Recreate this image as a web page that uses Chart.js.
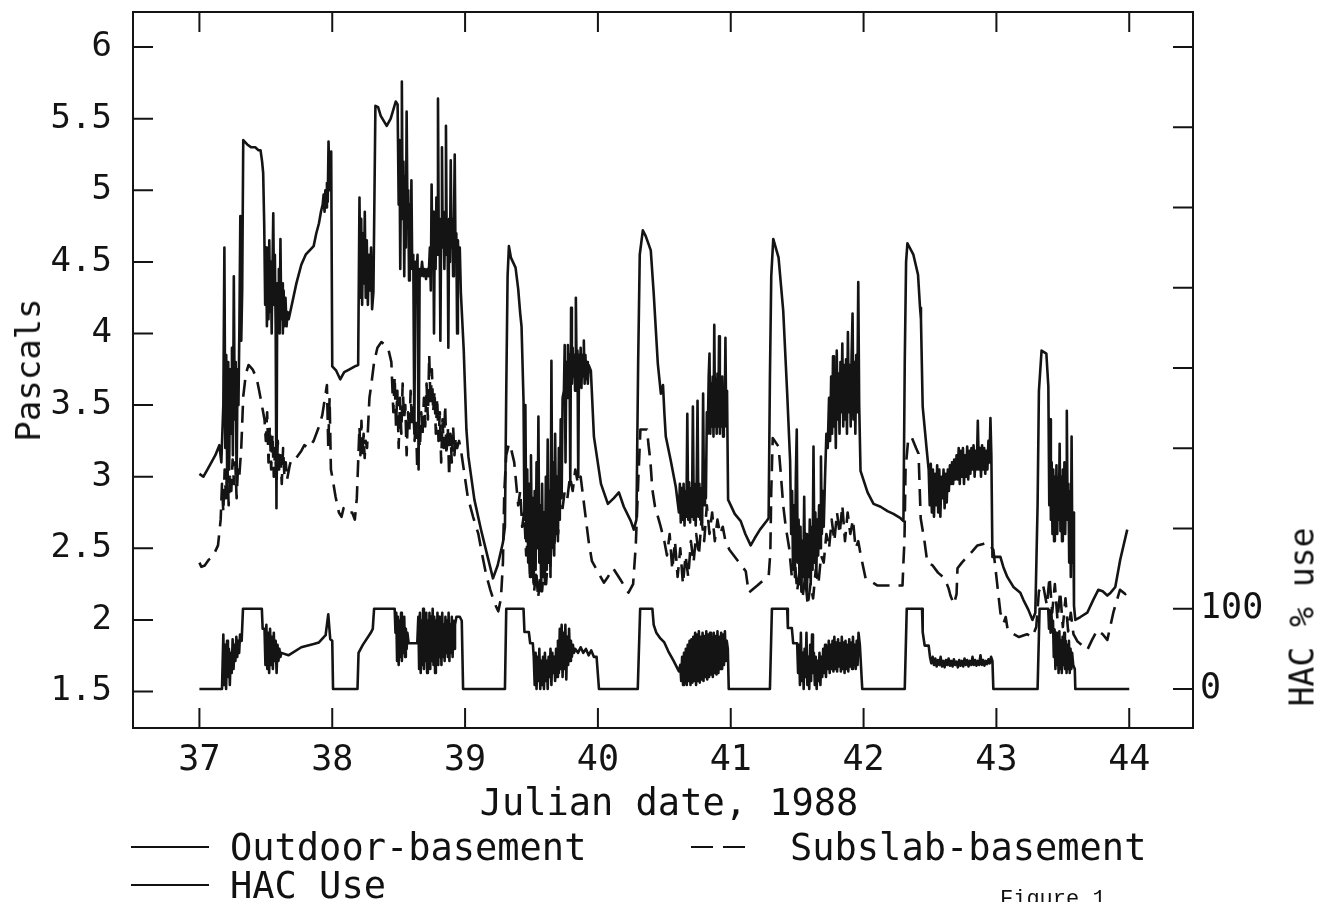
<!DOCTYPE html>
<html>
<head>
<meta charset="utf-8">
<title>Julian date, 1988</title>
<script src="https://cdn.jsdelivr.net/npm/chart.js@4.4.1/dist/chart.umd.min.js"></script>
<style>
  html, body { margin: 0; padding: 0; background: #fff; }
  #page { position: relative; width: 1336px; height: 902px; overflow: hidden; background: #fff; }
  #pressure-chart { position: absolute; left: 0; top: 0; }
  .label { position: absolute; font-family: "DejaVu Sans Mono", monospace; color: #111; white-space: nowrap; line-height: 1; }
  .rotated { transform: translate(-50%, -50%) rotate(-90deg); }
  .centered { transform: translate(-50%, -50%); }
  .row { transform: translate(0, -50%); }
  .key-line { position: absolute; height: 0; border-top: 2px solid #111; }
</style>
</head>
<body>
<div id="page">
  <canvas id="pressure-chart" width="1336" height="902"></canvas>
  <div class="label rotated" style="left:28px; top:370px; font-size:34px;">Pascals</div>
  <div class="label rotated" style="left:1302px; top:617px; font-size:33px;">HAC % use</div>
  <div class="label centered" style="left:669px; top:802px; font-size:37px;">Julian date, 1988</div>

  <div class="key-line" style="left:131px; top:846px; width:78px;"></div>
  <div class="label row" style="left:230px; top:847px; font-size:37px;">Outdoor-basement</div>
  <div class="key-line" style="left:691px; top:846px; width:22px;"></div>
  <div class="key-line" style="left:723px; top:846px; width:22px;"></div>
  <div class="label row" style="left:790px; top:847px; font-size:37px;">Subslab-basement</div>
  <div class="key-line" style="left:131px; top:884px; width:78px;"></div>
  <div class="label row" style="left:230px; top:885px; font-size:37px;">HAC Use</div>
  <div class="label" style="left:1000px; top:889px; font-size:22px; font-family:'Liberation Mono', monospace;">Figure 1</div>
</div>
<script>
"use strict";

// tick values for the three axes
const dayTicks = [37, 38, 39, 40, 41, 42, 43, 44];
const pascalTicks = [1.5, 2, 2.5, 3, 3.5, 4, 4.5, 5, 5.5, 6];
const hacTicks = [0, 100, 200, 300, 400, 500, 600, 700, 800];
const hacTickLabels = { 0: "0", 100: "100" };

// [julian day, pascals]
const outdoorBasement = [
  [37.000, 3.02], [37.030, 3.00], [37.060, 3.05], [37.090, 3.10], [37.120, 3.15], [37.150, 3.22],
  [37.165, 3.10], [37.180, 3.50], [37.188, 4.60], [37.195, 3.20], [37.202, 3.85], [37.210, 2.88],
  [37.217, 3.80], [37.224, 3.05], [37.231, 3.75], [37.238, 3.30], [37.245, 3.90], [37.252, 3.15],
  [37.259, 4.40], [37.266, 3.40], [37.273, 3.80], [37.280, 2.95], [37.287, 3.75], [37.294, 3.50],
  [37.301, 4.05], [37.308, 4.82], [37.315, 3.95], [37.322, 4.30], [37.330, 5.35], [37.360, 5.32],
  [37.390, 5.30], [37.420, 5.30], [37.445, 5.28], [37.460, 5.28], [37.472, 5.20], [37.480, 5.12],
  [37.488, 4.75], [37.495, 4.20], [37.502, 4.60], [37.508, 4.05], [37.514, 4.55], [37.520, 4.10],
  [37.526, 4.65], [37.532, 4.15], [37.538, 4.50], [37.544, 4.00], [37.550, 4.45], [37.556, 4.84],
  [37.562, 4.20], [37.568, 4.55], [37.574, 4.05], [37.580, 2.78], [37.586, 4.35], [37.592, 4.10],
  [37.598, 4.45], [37.604, 4.00], [37.610, 4.66], [37.616, 4.10], [37.622, 4.35], [37.628, 4.00],
  [37.634, 4.30], [37.640, 4.05], [37.648, 4.25], [37.656, 4.05], [37.664, 4.15], [37.672, 4.10],
  [37.700, 4.22], [37.730, 4.35], [37.767, 4.48], [37.800, 4.55], [37.830, 4.58], [37.860, 4.61],
  [37.880, 4.70], [37.900, 4.77], [37.915, 4.85], [37.928, 4.90], [37.935, 4.97], [37.942, 4.85],
  [37.948, 5.00], [37.954, 4.88], [37.960, 5.05], [37.966, 4.92], [37.972, 5.34], [37.980, 5.00],
  [37.992, 5.27], [38.000, 3.77],
  [38.030, 3.74], [38.060, 3.68], [38.090, 3.73], [38.130, 3.75], [38.170, 3.77], [38.195, 3.78],
  [38.205, 4.95], [38.212, 4.25], [38.218, 4.80], [38.225, 4.20], [38.232, 4.70], [38.238, 4.35],
  [38.245, 4.85], [38.252, 4.25], [38.260, 4.65], [38.268, 4.20], [38.276, 4.55], [38.284, 4.30],
  [38.292, 4.60], [38.300, 4.17], [38.310, 4.29], [38.325, 5.59], [38.345, 5.58], [38.365, 5.52],
  [38.410, 5.45], [38.440, 5.50], [38.478, 5.62], [38.492, 5.60], [38.500, 4.90], [38.506, 5.35],
  [38.512, 4.45], [38.518, 5.25], [38.524, 5.76], [38.530, 4.80], [38.536, 5.20], [38.542, 4.40],
  [38.548, 5.10], [38.554, 4.60], [38.560, 5.55], [38.566, 4.85], [38.572, 5.00], [38.578, 4.37],
  [38.584, 4.90], [38.590, 4.50], [38.596, 5.07], [38.602, 4.45], [38.610, 4.55], [38.618, 3.30],
  [38.626, 4.50], [38.634, 4.40], [38.642, 4.55], [38.650, 3.05], [38.658, 4.45], [38.666, 4.40],
  [38.676, 4.50], [38.686, 4.40], [38.696, 4.45], [38.706, 4.38], [38.716, 4.45], [38.726, 4.40],
  [38.735, 4.60], [38.742, 4.30], [38.748, 5.04], [38.754, 4.50], [38.760, 4.85], [38.766, 4.00],
  [38.772, 4.75], [38.778, 4.45], [38.784, 4.95], [38.790, 4.55], [38.796, 5.64], [38.802, 4.60],
  [38.808, 4.80], [38.814, 3.95], [38.820, 4.75], [38.826, 5.30], [38.832, 4.60], [38.838, 4.85],
  [38.844, 4.45], [38.850, 4.80], [38.856, 5.45], [38.862, 4.55], [38.868, 4.75], [38.874, 3.90],
  [38.880, 4.80], [38.886, 4.50], [38.892, 5.21], [38.898, 4.60], [38.904, 4.80], [38.910, 4.40],
  [38.916, 4.75], [38.922, 5.25], [38.928, 4.55], [38.934, 4.70], [38.940, 4.00], [38.946, 4.65],
  [38.952, 4.46], [38.960, 4.60], [38.968, 4.29], [38.990, 3.88],
  [39.010, 3.33], [39.025, 3.14], [39.070, 2.84], [39.120, 2.63], [39.170, 2.44], [39.210, 2.29],
  [39.245, 2.38], [39.285, 2.54], [39.300, 2.65], [39.310, 3.60], [39.320, 4.40], [39.330, 4.61],
  [39.345, 4.53], [39.380, 4.46], [39.400, 4.31], [39.415, 4.14], [39.425, 4.05], [39.440, 3.53],
  [39.447, 2.70], [39.454, 3.50], [39.461, 2.55], [39.468, 3.05], [39.475, 2.40], [39.482, 2.95],
  [39.489, 2.30], [39.496, 3.15], [39.503, 2.45], [39.510, 2.85], [39.517, 2.25], [39.524, 2.90],
  [39.531, 2.35], [39.538, 3.10], [39.545, 2.50], [39.552, 3.42], [39.559, 2.40], [39.566, 2.80],
  [39.573, 2.20], [39.580, 2.95], [39.587, 2.30], [39.594, 2.75], [39.601, 2.25], [39.608, 3.00],
  [39.615, 2.35], [39.622, 3.26], [39.629, 2.40], [39.636, 2.90], [39.643, 2.30], [39.650, 3.81],
  [39.657, 2.50], [39.664, 3.10], [39.671, 2.45], [39.678, 3.30], [39.685, 2.60], [39.692, 3.00],
  [39.699, 2.55], [39.706, 3.20], [39.713, 2.70], [39.720, 3.40], [39.727, 2.85], [39.734, 3.55],
  [39.744, 3.60], [39.750, 3.92], [39.756, 3.10], [39.762, 3.80], [39.768, 3.55], [39.774, 3.92],
  [39.780, 3.65], [39.786, 3.85], [39.792, 2.95], [39.798, 4.18], [39.804, 3.65], [39.810, 3.90],
  [39.816, 3.70], [39.822, 3.85], [39.828, 3.60], [39.834, 4.25], [39.840, 3.70], [39.846, 3.88],
  [39.852, 3.00], [39.858, 3.85], [39.864, 3.65], [39.870, 3.90], [39.876, 3.62], [39.882, 3.85],
  [39.888, 3.70], [39.894, 3.95], [39.900, 3.65], [39.906, 3.85], [39.912, 3.68], [39.918, 3.80],
  [39.924, 3.65], [39.930, 3.78], [39.947, 3.74], [39.970, 3.28], [40.023, 2.95], [40.075, 2.81],
  [40.120, 2.85], [40.158, 2.89], [40.195, 2.79], [40.248, 2.69], [40.270, 2.63], [40.290, 2.70],
  [40.303, 3.80], [40.315, 4.55], [40.338, 4.72], [40.360, 4.68], [40.398, 4.58], [40.420, 4.28],
  [40.451, 3.79], [40.474, 3.58], [40.490, 3.64], [40.500, 3.45], [40.511, 3.28], [40.549, 3.11],
  [40.586, 2.93], [40.610, 2.75], [40.617, 2.95], [40.624, 2.68], [40.631, 2.92], [40.638, 2.70],
  [40.645, 2.95], [40.652, 2.66], [40.659, 2.90], [40.666, 2.72], [40.673, 3.44], [40.680, 2.70],
  [40.687, 2.96], [40.694, 2.68], [40.701, 2.92], [40.708, 2.72], [40.715, 3.49], [40.722, 2.70],
  [40.729, 2.95], [40.736, 2.66], [40.743, 2.90], [40.750, 3.53], [40.757, 2.72], [40.764, 2.95],
  [40.771, 2.70], [40.778, 2.92], [40.785, 2.68], [40.792, 3.58], [40.799, 2.80], [40.806, 3.10],
  [40.813, 2.85], [40.820, 3.45], [40.827, 3.30], [40.834, 3.70], [40.840, 3.86], [40.846, 3.30],
  [40.852, 3.65], [40.858, 3.35], [40.864, 3.70], [40.870, 3.28], [40.876, 4.06], [40.882, 3.35],
  [40.888, 3.68], [40.894, 3.30], [40.900, 3.72], [40.906, 3.35], [40.912, 3.98], [40.918, 3.30],
  [40.924, 3.65], [40.930, 3.35], [40.936, 3.70], [40.942, 3.28], [40.948, 3.62], [40.954, 3.40],
  [40.960, 3.97], [40.966, 3.35], [40.972, 3.60], [40.980, 2.84],
  [41.030, 2.74], [41.075, 2.69], [41.110, 2.60], [41.150, 2.52], [41.180, 2.57], [41.220, 2.63],
  [41.270, 2.69], [41.285, 2.71], [41.295, 3.70], [41.305, 4.40], [41.320, 4.66], [41.360, 4.53],
  [41.395, 4.16], [41.425, 3.58], [41.447, 3.11], [41.455, 2.60], [41.462, 2.90], [41.469, 2.35],
  [41.476, 2.80], [41.483, 2.30], [41.490, 3.00], [41.497, 3.33], [41.504, 2.40], [41.511, 2.70],
  [41.518, 2.25], [41.525, 2.65], [41.532, 2.20], [41.539, 2.55], [41.546, 2.30], [41.553, 2.86],
  [41.560, 2.25], [41.567, 2.60], [41.574, 2.20], [41.581, 2.55], [41.588, 2.30], [41.595, 2.70],
  [41.602, 2.25], [41.609, 2.65], [41.616, 2.35], [41.623, 3.21], [41.630, 2.40], [41.637, 2.75],
  [41.644, 2.30], [41.651, 2.70], [41.658, 2.45], [41.665, 2.80], [41.672, 2.50], [41.679, 3.14],
  [41.686, 2.60], [41.693, 2.90], [41.700, 2.65], [41.710, 3.00], [41.720, 3.30], [41.730, 3.20],
  [41.740, 3.55], [41.748, 3.25], [41.756, 3.70], [41.763, 3.30], [41.770, 3.84], [41.777, 3.35],
  [41.784, 3.75], [41.791, 3.20], [41.798, 3.88], [41.805, 3.40], [41.812, 3.72], [41.819, 3.30],
  [41.826, 3.80], [41.833, 3.45], [41.840, 3.93], [41.847, 3.35], [41.854, 3.78], [41.861, 3.40],
  [41.868, 3.82], [41.875, 3.30], [41.882, 4.01], [41.889, 3.45], [41.896, 3.78], [41.903, 3.35],
  [41.910, 3.85], [41.917, 4.14], [41.924, 3.40], [41.931, 3.80], [41.938, 3.30], [41.945, 3.85],
  [41.952, 3.45], [41.960, 4.36], [41.967, 3.50], [41.977, 3.04],
  [42.030, 2.89], [42.075, 2.81], [42.128, 2.79], [42.180, 2.76], [42.225, 2.74], [42.278, 2.71],
  [42.300, 2.69], [42.310, 3.80], [42.320, 4.50], [42.330, 4.63], [42.375, 4.55], [42.410, 4.41],
  [42.425, 4.18], [42.432, 4.10], [42.445, 3.49], [42.475, 3.19], [42.490, 3.05], [42.498, 2.80],
  [42.506, 3.09], [42.514, 2.75], [42.522, 3.05], [42.530, 2.72], [42.538, 3.02], [42.546, 2.80],
  [42.554, 3.08], [42.562, 2.75], [42.570, 3.05], [42.578, 2.72], [42.586, 3.00], [42.594, 2.85],
  [42.602, 3.05], [42.610, 2.78], [42.618, 3.02], [42.626, 2.82], [42.634, 3.05], [42.642, 2.90],
  [42.650, 3.08], [42.658, 2.95], [42.666, 3.10], [42.674, 2.95], [42.682, 3.12], [42.690, 2.98],
  [42.700, 3.15], [42.708, 2.98], [42.716, 3.20], [42.724, 2.95], [42.732, 3.18], [42.740, 3.00],
  [42.748, 3.20], [42.756, 2.95], [42.764, 3.15], [42.772, 3.00], [42.780, 3.21], [42.788, 2.98],
  [42.796, 3.18], [42.804, 3.02], [42.812, 3.20], [42.820, 3.05], [42.828, 3.22], [42.836, 3.00],
  [42.844, 3.18], [42.852, 3.05], [42.860, 3.39], [42.868, 3.05], [42.876, 3.20], [42.884, 3.00],
  [42.892, 3.22], [42.900, 3.05], [42.908, 3.20], [42.916, 3.02], [42.924, 3.18], [42.932, 3.05],
  [42.940, 3.25], [42.948, 3.10], [42.955, 3.41], [42.962, 3.15], [42.970, 2.44],
  [43.030, 2.44], [43.052, 2.37], [43.082, 2.30], [43.128, 2.23], [43.180, 2.19], [43.203, 2.14],
  [43.241, 2.07], [43.271, 2.00], [43.293, 2.05], [43.310, 2.80], [43.320, 3.60], [43.340, 3.88],
  [43.376, 3.86], [43.391, 3.63], [43.398, 2.80], [43.404, 3.40], [43.410, 2.70], [43.416, 3.10],
  [43.422, 2.60], [43.428, 3.05], [43.434, 2.55], [43.440, 3.00], [43.446, 2.65], [43.452, 3.08],
  [43.458, 2.60], [43.464, 3.00], [43.470, 2.70], [43.476, 3.23], [43.482, 2.62], [43.488, 3.00],
  [43.494, 2.55], [43.500, 3.05], [43.506, 2.65], [43.512, 3.10], [43.518, 2.60], [43.524, 3.00],
  [43.530, 3.46], [43.536, 2.70], [43.542, 2.95], [43.548, 2.40], [43.554, 2.90], [43.560, 2.30],
  [43.566, 3.28], [43.572, 2.40], [43.578, 2.75], [43.584, 2.10], [43.594, 2.00], [43.632, 2.02],
  [43.684, 2.05], [43.729, 2.14], [43.767, 2.21], [43.800, 2.20], [43.835, 2.17], [43.860, 2.19],
  [43.895, 2.23], [43.932, 2.42], [43.985, 2.63]
];

// [julian day, pascals]
const subslabBasement = [
  [37.000, 2.40], [37.015, 2.37], [37.040, 2.38], [37.070, 2.42], [37.100, 2.44], [37.140, 2.52],
  [37.160, 2.70], [37.170, 2.95], [37.180, 2.75], [37.190, 3.05], [37.200, 2.85], [37.210, 3.10],
  [37.220, 2.80], [37.230, 3.00], [37.240, 2.90], [37.250, 3.12], [37.260, 2.95], [37.270, 3.10],
  [37.280, 2.85], [37.290, 3.05], [37.300, 3.00], [37.315, 3.20], [37.330, 3.56], [37.350, 3.72],
  [37.370, 3.78], [37.400, 3.75], [37.430, 3.69], [37.450, 3.60], [37.470, 3.50], [37.490, 3.40],
  [37.500, 3.25], [37.510, 3.45], [37.520, 3.10], [37.530, 3.35], [37.540, 3.05], [37.550, 3.30],
  [37.560, 3.00], [37.570, 3.20], [37.580, 2.95], [37.590, 3.25], [37.600, 3.05], [37.610, 3.15],
  [37.620, 2.95], [37.630, 3.20], [37.640, 3.00], [37.650, 3.10], [37.660, 2.98], [37.680, 3.08],
  [37.692, 3.12], [37.720, 3.12], [37.767, 3.18], [37.790, 3.22], [37.820, 3.20], [37.860, 3.25],
  [37.900, 3.35], [37.925, 3.43], [37.960, 3.64], [37.970, 3.20], [37.980, 3.55], [37.990, 3.05],
  [38.000, 3.00], [38.025, 2.86], [38.050, 2.75], [38.070, 2.72], [38.085, 2.78], [38.100, 2.75],
  [38.150, 2.75], [38.170, 2.70], [38.185, 2.85], [38.195, 3.10], [38.205, 3.35], [38.212, 3.15],
  [38.220, 3.39], [38.228, 3.15], [38.236, 3.30], [38.244, 3.13], [38.252, 3.25], [38.262, 3.20],
  [38.280, 3.55], [38.295, 3.65], [38.315, 3.80], [38.340, 3.90], [38.370, 3.94], [38.400, 3.92],
  [38.425, 3.88], [38.445, 3.80], [38.460, 3.45], [38.470, 3.70], [38.480, 3.35], [38.490, 3.60],
  [38.500, 3.20], [38.510, 3.55], [38.520, 3.30], [38.530, 3.65], [38.540, 3.40], [38.550, 3.50],
  [38.560, 3.15], [38.570, 3.45], [38.580, 3.30], [38.590, 3.60], [38.600, 3.35], [38.610, 3.50],
  [38.620, 3.25], [38.630, 3.40], [38.640, 3.05], [38.650, 3.30], [38.660, 3.20], [38.670, 3.45],
  [38.680, 3.30], [38.690, 3.55], [38.700, 3.35], [38.710, 3.65], [38.720, 3.40], [38.730, 3.85],
  [38.740, 3.50], [38.750, 3.75], [38.760, 3.45], [38.770, 3.60], [38.780, 3.30], [38.790, 3.55],
  [38.800, 3.25], [38.810, 3.45], [38.820, 3.10], [38.830, 3.40], [38.840, 3.20], [38.850, 3.50],
  [38.860, 3.15], [38.870, 3.35], [38.880, 3.00], [38.890, 3.30], [38.900, 3.10], [38.910, 3.35],
  [38.920, 3.15], [38.930, 3.28], [38.940, 3.20], [38.955, 3.25], [38.970, 3.18], [38.990, 3.05],
  [39.020, 2.86], [39.060, 2.72], [39.100, 2.60], [39.130, 2.45], [39.160, 2.31], [39.190, 2.21],
  [39.220, 2.12], [39.250, 2.06], [39.270, 2.15], [39.285, 2.40], [39.295, 2.89], [39.310, 3.15],
  [39.330, 3.23], [39.350, 3.18], [39.370, 3.10], [39.385, 2.95], [39.400, 2.80], [39.415, 2.90],
  [39.430, 2.65], [39.445, 2.75], [39.460, 2.45], [39.475, 2.60], [39.490, 2.30], [39.505, 2.45],
  [39.520, 2.20], [39.535, 2.35], [39.550, 2.15], [39.565, 2.30], [39.580, 2.20], [39.595, 2.40],
  [39.610, 2.25], [39.625, 2.45], [39.640, 2.35], [39.655, 2.60], [39.670, 2.50], [39.685, 2.70],
  [39.700, 2.60], [39.715, 2.80], [39.730, 2.75], [39.750, 2.90], [39.770, 2.85], [39.790, 3.00],
  [39.810, 2.90], [39.830, 3.05], [39.850, 2.95], [39.870, 3.00], [39.890, 2.85], [39.910, 2.70],
  [39.930, 2.55], [39.955, 2.41], [40.045, 2.26], [40.075, 2.30], [40.115, 2.36], [40.170, 2.28],
  [40.230, 2.19], [40.265, 2.25], [40.285, 2.52], [40.305, 3.00], [40.320, 3.33], [40.370, 3.33],
  [40.380, 3.23], [40.395, 3.11], [40.410, 2.91], [40.430, 2.79], [40.470, 2.66], [40.500, 2.55],
  [40.520, 2.45], [40.540, 2.60], [40.560, 2.35], [40.580, 2.55], [40.600, 2.30], [40.620, 2.50],
  [40.640, 2.25], [40.660, 2.45], [40.680, 2.30], [40.700, 2.55], [40.720, 2.40], [40.740, 2.60],
  [40.760, 2.45], [40.780, 2.70], [40.800, 2.55], [40.820, 2.80], [40.840, 2.60], [40.860, 2.75],
  [40.880, 2.55], [40.900, 2.70], [40.920, 2.60], [40.940, 2.65], [40.960, 2.55], [40.990, 2.49],
  [41.113, 2.34], [41.135, 2.19], [41.200, 2.24], [41.286, 2.31], [41.298, 2.47], [41.305, 2.90],
  [41.316, 3.27], [41.360, 3.21], [41.376, 3.03], [41.395, 2.80], [41.414, 2.65], [41.440, 2.50],
  [41.460, 2.30], [41.480, 2.45], [41.500, 2.20], [41.520, 2.35], [41.540, 2.15], [41.560, 2.30],
  [41.580, 2.10], [41.600, 2.25], [41.620, 2.15], [41.640, 2.35], [41.660, 2.25], [41.680, 2.45],
  [41.700, 2.40], [41.720, 2.60], [41.740, 2.50], [41.760, 2.70], [41.780, 2.55], [41.800, 2.75],
  [41.820, 2.60], [41.840, 2.80], [41.860, 2.55], [41.880, 2.75], [41.900, 2.60], [41.920, 2.70],
  [41.940, 2.50], [41.960, 2.55], [41.977, 2.46], [42.015, 2.29], [42.105, 2.24], [42.200, 2.24],
  [42.293, 2.24], [42.300, 2.40], [42.308, 2.56], [42.316, 3.05], [42.335, 3.25], [42.360, 3.28],
  [42.395, 3.20], [42.414, 3.16], [42.421, 2.96], [42.430, 2.71], [42.460, 2.54], [42.480, 2.40],
  [42.520, 2.38], [42.560, 2.33], [42.610, 2.29], [42.640, 2.22], [42.654, 2.17], [42.680, 2.11],
  [42.700, 2.18], [42.707, 2.36], [42.740, 2.40], [42.780, 2.44], [42.820, 2.48], [42.857, 2.52],
  [42.900, 2.53], [42.932, 2.54], [42.977, 2.49], [43.000, 2.30], [43.030, 2.05], [43.055, 1.98],
  [43.070, 2.02], [43.085, 1.93], [43.130, 1.90], [43.170, 1.88], [43.230, 1.90], [43.270, 1.88],
  [43.300, 1.95], [43.320, 2.20], [43.350, 2.25], [43.380, 2.10], [43.400, 2.30], [43.420, 2.05],
  [43.440, 2.25], [43.460, 2.00], [43.480, 2.20], [43.500, 1.95], [43.520, 2.15], [43.540, 1.92],
  [43.560, 2.05], [43.580, 1.90], [43.610, 1.85], [43.684, 1.79], [43.720, 1.86], [43.760, 1.93],
  [43.800, 1.90], [43.835, 1.86], [43.880, 2.05], [43.930, 2.21], [43.970, 2.18], [44.000, 2.20]
];

// [julian day, HAC % use]
const hacUse = [
  [37.000, 0], [37.170, 0], [37.180, 68], [37.187, 5], [37.194, 55], [37.201, 0], [37.208, 60],
  [37.215, 15], [37.222, 50], [37.229, 5], [37.236, 45], [37.243, 20], [37.250, 62], [37.257, 25],
  [37.264, 55], [37.271, 35], [37.278, 65], [37.285, 40], [37.292, 60], [37.299, 45], [37.306, 68],
  [37.318, 60], [37.328, 100], [37.470, 100], [37.476, 75], [37.490, 75], [37.497, 30], [37.504, 80],
  [37.511, 25], [37.518, 70], [37.525, 20], [37.532, 75], [37.539, 30], [37.546, 65], [37.553, 25],
  [37.560, 70], [37.567, 35], [37.574, 60], [37.581, 20], [37.588, 55], [37.595, 35], [37.602, 50],
  [37.610, 40], [37.617, 45], [37.670, 42], [37.767, 52], [37.860, 56], [37.900, 58], [37.950, 67],
  [37.970, 93], [37.985, 62], [38.000, 60], [38.006, 0],
  [38.190, 0], [38.198, 45], [38.230, 55], [38.290, 70], [38.305, 75], [38.315, 100], [38.470, 100],
  [38.476, 70], [38.482, 95], [38.488, 35], [38.494, 90], [38.500, 30], [38.506, 85], [38.512, 40],
  [38.518, 95], [38.524, 35], [38.530, 80], [38.536, 45], [38.542, 90], [38.548, 40], [38.554, 75],
  [38.560, 50], [38.566, 70], [38.575, 57], [38.640, 57], [38.648, 90], [38.654, 25], [38.660, 95],
  [38.666, 20], [38.672, 85], [38.678, 30], [38.684, 100], [38.690, 25], [38.696, 90], [38.702, 35],
  [38.708, 95], [38.714, 20], [38.720, 85], [38.726, 30], [38.732, 95], [38.738, 25], [38.744, 90],
  [38.750, 35], [38.756, 100], [38.762, 30], [38.768, 90], [38.774, 20], [38.780, 85], [38.786, 35],
  [38.792, 95], [38.798, 30], [38.804, 90], [38.810, 40], [38.816, 85], [38.822, 30], [38.828, 95],
  [38.834, 40], [38.840, 80], [38.846, 35], [38.852, 90], [38.858, 45], [38.864, 85], [38.870, 40],
  [38.876, 95], [38.882, 35], [38.888, 80], [38.894, 45], [38.900, 90], [38.906, 40], [38.912, 85],
  [38.918, 50], [38.924, 80], [38.935, 90], [38.960, 90], [38.975, 85], [38.985, 0],
  [39.300, 0], [39.310, 100], [39.440, 100], [39.447, 71], [39.480, 71], [39.490, 57], [39.510, 57],
  [39.517, 40], [39.524, 5], [39.531, 45], [39.538, 0], [39.545, 40], [39.552, 10], [39.559, 50],
  [39.566, 0], [39.573, 35], [39.580, 5], [39.587, 40], [39.594, 0], [39.601, 45], [39.608, 10],
  [39.615, 35], [39.622, 0], [39.629, 40], [39.636, 15], [39.643, 50], [39.650, 5], [39.657, 45],
  [39.664, 20], [39.671, 40], [39.678, 10], [39.685, 50], [39.692, 15], [39.699, 60], [39.706, 20],
  [39.713, 75], [39.720, 25], [39.727, 80], [39.734, 15], [39.741, 70], [39.748, 25], [39.755, 80],
  [39.762, 12], [39.769, 65], [39.776, 30], [39.783, 75], [39.790, 35], [39.797, 60], [39.804, 40],
  [39.812, 55], [39.820, 45], [39.830, 50], [39.850, 45], [39.870, 52], [39.890, 45], [39.910, 50],
  [39.930, 42], [39.950, 48], [39.970, 40], [39.990, 40], [40.008, 0],
  [40.300, 0], [40.318, 100], [40.410, 100], [40.420, 80], [40.440, 70], [40.470, 63], [40.500, 58],
  [40.530, 47], [40.570, 35], [40.610, 22], [40.620, 30], [40.627, 10], [40.634, 40], [40.641, 5],
  [40.648, 45], [40.655, 8], [40.662, 50], [40.669, 5], [40.676, 55], [40.683, 10], [40.690, 60],
  [40.697, 5], [40.704, 62], [40.711, 8], [40.718, 65], [40.725, 10], [40.732, 70], [40.739, 5],
  [40.746, 68], [40.753, 10], [40.760, 72], [40.767, 8], [40.774, 65], [40.781, 12], [40.788, 70],
  [40.795, 10], [40.802, 66], [40.809, 15], [40.816, 72], [40.823, 12], [40.830, 68], [40.837, 15],
  [40.844, 70], [40.851, 18], [40.858, 65], [40.865, 15], [40.872, 70], [40.879, 20], [40.886, 66],
  [40.893, 18], [40.900, 72], [40.907, 20], [40.914, 65], [40.921, 25], [40.928, 70], [40.935, 25],
  [40.942, 68], [40.949, 30], [40.956, 72], [40.963, 35], [40.970, 60], [40.978, 50], [40.985, 0],
  [41.295, 0], [41.310, 100], [41.425, 100], [41.430, 76], [41.460, 76], [41.470, 57], [41.500, 57],
  [41.507, 20], [41.514, 55], [41.521, 5], [41.528, 70], [41.535, 10], [41.542, 45], [41.549, 0],
  [41.556, 50], [41.563, 15], [41.570, 70], [41.577, 5], [41.584, 40], [41.591, 0], [41.598, 55],
  [41.605, 10], [41.612, 68], [41.619, 20], [41.626, 45], [41.633, 5], [41.640, 40], [41.647, 0],
  [41.654, 35], [41.661, 10], [41.668, 45], [41.675, 5], [41.682, 40], [41.689, 15], [41.696, 50],
  [41.703, 20], [41.710, 55], [41.717, 15], [41.724, 50], [41.731, 25], [41.738, 60], [41.745, 20],
  [41.752, 55], [41.759, 25], [41.766, 60], [41.773, 22], [41.780, 65], [41.787, 25], [41.794, 58],
  [41.801, 22], [41.808, 62], [41.815, 28], [41.822, 57], [41.829, 22], [41.836, 65], [41.843, 25],
  [41.850, 58], [41.857, 20], [41.864, 60], [41.871, 25], [41.878, 55], [41.885, 22], [41.892, 62],
  [41.899, 28], [41.906, 58], [41.913, 25], [41.920, 65], [41.927, 30], [41.934, 55], [41.941, 25],
  [41.948, 60], [41.955, 30], [41.962, 70], [41.972, 55], [41.990, 0],
  [42.310, 0], [42.325, 100], [42.440, 100], [42.445, 71], [42.460, 54], [42.490, 54], [42.500, 40],
  [42.510, 32], [42.520, 40], [42.530, 30], [42.540, 38], [42.550, 28], [42.560, 36], [42.570, 30],
  [42.580, 40], [42.590, 28], [42.600, 35], [42.610, 27], [42.620, 36], [42.630, 30], [42.640, 38],
  [42.650, 29], [42.660, 35], [42.670, 28], [42.680, 37], [42.690, 30], [42.700, 34], [42.710, 27],
  [42.720, 36], [42.730, 29], [42.740, 35], [42.750, 28], [42.760, 38], [42.770, 30], [42.780, 36],
  [42.790, 28], [42.800, 35], [42.810, 30], [42.820, 40], [42.830, 30], [42.840, 36], [42.850, 29],
  [42.860, 35], [42.870, 30], [42.880, 42], [42.890, 30], [42.900, 36], [42.910, 29], [42.920, 35],
  [42.930, 31], [42.940, 37], [42.950, 32], [42.960, 40], [42.970, 35], [42.977, 0],
  [43.310, 0], [43.325, 100], [43.390, 100], [43.396, 75], [43.402, 98], [43.408, 70], [43.414, 95],
  [43.420, 72], [43.426, 85], [43.432, 40], [43.438, 74], [43.444, 25], [43.450, 70], [43.456, 30],
  [43.462, 65], [43.468, 20], [43.474, 72], [43.480, 25], [43.486, 60], [43.492, 20], [43.498, 65],
  [43.504, 30], [43.510, 70], [43.516, 25], [43.522, 60], [43.528, 20], [43.534, 55], [43.540, 25],
  [43.546, 60], [43.552, 20], [43.558, 50], [43.564, 25], [43.570, 45], [43.578, 30], [43.590, 25],
  [43.594, 0], [44.000, 0]
];

const ink = "#141414";
const tickLength = 20;
const monoFont = "'DejaVu Sans Mono', monospace";

const toPoints = (rows) => rows.map(([x, y]) => ({ x: x, y: y }));

// box round the plot with the short inward ticks on all four sides
const plotterFrame = {
  id: "plotterFrame",
  afterDraw(chart) {
    const { ctx, chartArea, scales } = chart;
    const { left, right, top, bottom } = chartArea;
    ctx.save();
    ctx.strokeStyle = ink;
    ctx.lineWidth = 2;
    ctx.strokeRect(left, top, right - left, bottom - top);
    ctx.beginPath();
    dayTicks.forEach((day) => {
      const px = scales.x.getPixelForValue(day);
      ctx.moveTo(px, bottom);
      ctx.lineTo(px, bottom - tickLength);
      ctx.moveTo(px, top);
      ctx.lineTo(px, top + tickLength);
    });
    pascalTicks.forEach((pa) => {
      const py = scales.y.getPixelForValue(pa);
      ctx.moveTo(left, py);
      ctx.lineTo(left + tickLength, py);
    });
    hacTicks.forEach((pct) => {
      const py = scales.y2.getPixelForValue(pct);
      ctx.moveTo(right, py);
      ctx.lineTo(right - tickLength, py);
    });
    ctx.stroke();
    ctx.restore();
  },
};

const hiddenGrid = { display: false, drawTicks: false };

// keep the label overhang from pushing the plot box around
const noOverhang = (scale) => {
  scale.paddingTop = 0;
  scale.paddingBottom = 0;
  scale.paddingLeft = 0;
  scale.paddingRight = 0;
};

new Chart(document.getElementById("pressure-chart"), {
  type: "line",
  data: {
    datasets: [
      {
        label: "Outdoor-basement",
        data: toPoints(outdoorBasement),
        yAxisID: "y",
        borderColor: ink,
        borderWidth: 2.6,
      },
      {
        label: "Subslab-basement",
        data: toPoints(subslabBasement),
        yAxisID: "y",
        borderColor: ink,
        borderWidth: 2.6,
        borderDash: [17, 9],
      },
      {
        label: "HAC Use",
        data: toPoints(hacUse),
        yAxisID: "y2",
        borderColor: ink,
        borderWidth: 2.6,
      },
    ],
  },
  options: {
    responsive: false,
    animation: false,
    layout: { padding: { top: 12, left: 0, right: 0, bottom: 0 } },
    elements: {
      point: { radius: 0 },
      line: { tension: 0, fill: false, borderJoinStyle: "round" },
    },
    plugins: {
      legend: { display: false },
      tooltip: { enabled: false },
    },
    scales: {
      x: {
        type: "linear",
        min: 36.5,
        max: 44.48,
        grid: hiddenGrid,
        border: { display: false },
        afterBuildTicks: (scale) => {
          scale.ticks = dayTicks.map((v) => ({ value: v }));
        },
        afterFit: (scale) => {
          scale.height = 174;
          noOverhang(scale);
        },
        ticks: {
          padding: 12,
          color: ink,
          maxRotation: 0,
          autoSkip: false,
          font: { family: monoFont, size: 35 },
          callback: (value) => String(value),
        },
      },
      y: {
        position: "left",
        min: 1.245,
        max: 6.245,
        grid: hiddenGrid,
        border: { display: false },
        afterBuildTicks: (scale) => {
          scale.ticks = pascalTicks.map((v) => ({ value: v }));
        },
        afterFit: (scale) => {
          scale.width = 133;
          noOverhang(scale);
        },
        ticks: {
          padding: 21,
          color: ink,
          autoSkip: false,
          font: { family: monoFont, size: 34 },
          callback: (value) => String(value),
        },
      },
      y2: {
        position: "right",
        min: -48.6,
        max: 843.6,
        grid: hiddenGrid,
        border: { display: false },
        afterBuildTicks: (scale) => {
          scale.ticks = hacTicks.map((v) => ({ value: v }));
        },
        afterFit: (scale) => {
          scale.width = 143;
          noOverhang(scale);
        },
        ticks: {
          padding: 7,
          color: ink,
          autoSkip: false,
          font: { family: monoFont, size: 35 },
          callback: (value) => hacTickLabels[value] || "",
        },
      },
    },
  },
  plugins: [plotterFrame],
});
</script>
</body>
</html>
